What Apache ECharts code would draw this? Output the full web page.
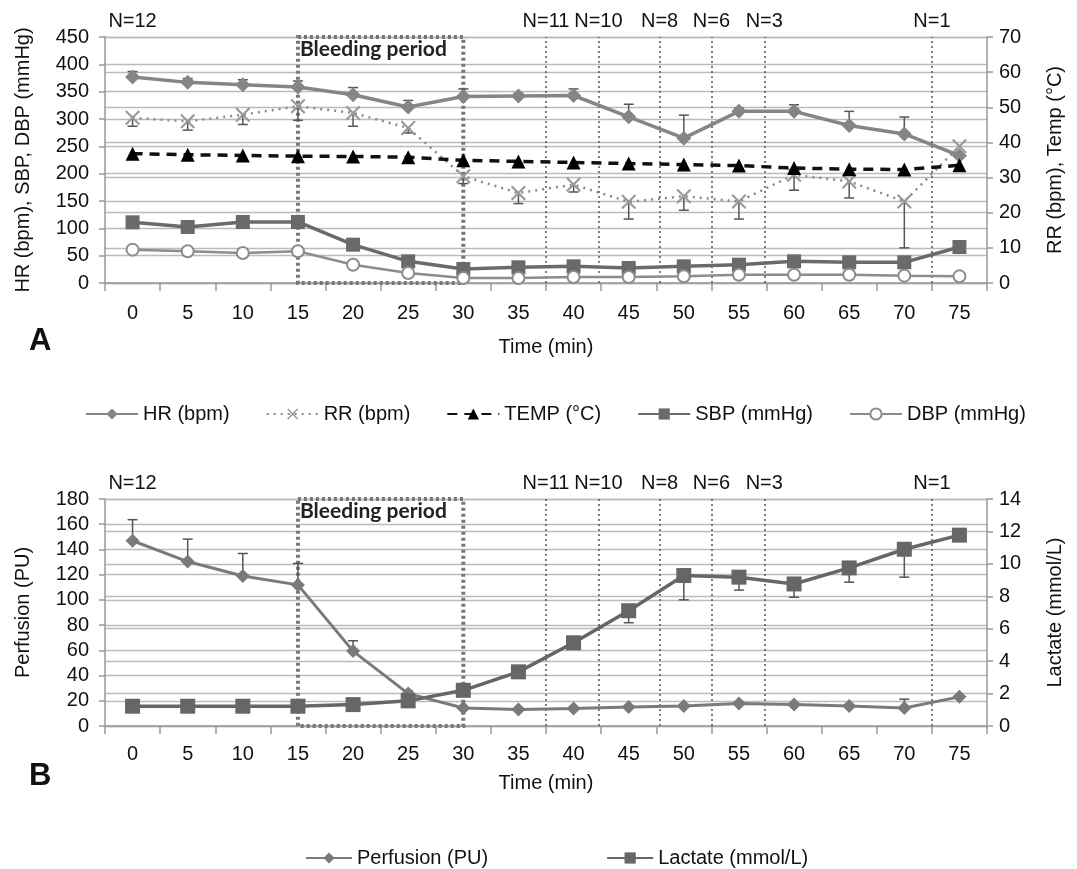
<!DOCTYPE html>
<html><head><meta charset="utf-8">
<script src="https://cdn.jsdelivr.net/npm/echarts@6/dist/echarts.min.js"></script>
<style>html,body{margin:0;padding:0;background:#fff}#c{width:1077px;height:869px}</style>
</head><body><div id="c"></div>
<script>
// ---- data ----
const times = [0,5,10,15,20,25,30,35,40,45,50,55,60,65,70,75];
const timeLabels = ['0','5','10','15','20','25','30','35','40','45','50','55','60','65','70','75'];
const hr = [376.8,367,362.8,358.5,344.5,322,341,342,343,304,265,314,314,288,272.6,233];
const hrErr = [10,7,9,11,13,12,14,5,12,23,42,6,12,26,31,0];
const rr = [47.0,46.0,47.9,50.3,48.4,44.1,30.4,25.6,28.0,23.1,24.7,23.2,30.8,28.9,23.2,38.9];
const rrErr = [2.4,2.5,2.8,4,3.8,1.4,2.1,3.0,2.1,4.9,4,5,4.4,4.7,13.2,0];
const temp = [36.8,36.5,36.3,36.1,36.0,35.8,34.9,34.6,34.3,34.0,33.7,33.4,32.7,32.4,32.3,33.5];
const sbp = [111,102.4,111.6,111.6,70.1,39.6,25.6,28.7,30.5,27.4,30.5,33.5,39.6,37.8,37.8,65.9];
const dbp = [61,58,54.9,58,33.5,18.3,9.1,9,11,11,12.2,15.2,15.2,15.2,13.4,12.2];
const perfusion = [146.9,130.4,119,111.9,59.4,25.7,14.3,13.0,13.8,15.1,15.9,17.8,17.0,15.9,14.3,23.1];
const perfusionErr = [16.7,17.8,17.8,17,8.2,2,0,0,0,0,0,0,0,0,7,0];
const lactate = [1.22,1.22,1.22,1.22,1.32,1.55,2.2,3.34,5.13,7.11,9.28,9.18,8.76,9.75,10.9,11.77];
const lactateErr = [0,0,0,0,0,0,0,0,0.3,0.74,1.5,0.8,0.82,0.88,1.72,0];
const nLabels = ['N=12','N=11','N=10','N=8','N=6','N=3','N=1'];
const nTimes = [0,37.5,42.25,47.8,52.5,57.3,72.5];
const bleedStart = 15, bleedEnd = 30;

// ---- styling ----
const FF = "'Liberation Sans',Arial,sans-serif";
const TXT = '#111';
const xShape = 'path://M0,1 L1,0 L5,4 L9,0 L10,1 L6,5 L10,9 L9,10 L5,6 L1,10 L0,9 L4,5 Z';

function pairs(arr){ return times.map((t,i)=>[t,arr[i]]); }
function errData(arr, err, dir){ return times.map((t,i)=>[t,arr[i],err[i],dir]); }
function errRender(params, api){
  const x=api.value(0), y=api.value(1), e=api.value(2), d=api.value(3);
  if(!e) return {type:'group',children:[]};
  const p0=api.coord([x,y]), p1=api.coord([x,y+d*e]);
  const w=5;
  return {type:'group',children:[
    {type:'line',shape:{x1:p0[0],y1:p0[1],x2:p1[0],y2:p1[1]},style:{stroke:'#555',lineWidth:1.5}},
    {type:'line',shape:{x1:p1[0]-w,y1:p1[1],x2:p1[0]+w,y2:p1[1]},style:{stroke:'#555',lineWidth:1.5}}
  ]};
}
function errSeries(arr, err, dir, xi, yi){
  return {type:'custom', xAxisIndex:xi, yAxisIndex:yi, renderItem:errRender,
    data:errData(arr,err,dir), encode:{x:0,y:1}, z:1, silent:true};
}
function nMarkLine(){
  return {symbol:'none', silent:true,
    lineStyle:{color:'#555',width:1.5,type:[2,3]},
    label:{show:true,position:'end',distance:6,fontFamily:FF,fontSize:20,color:TXT},
    data:nTimes.map((t,i)=>({xAxis:t,
      label:{show:true,formatter:nLabels[i],color:TXT},
      lineStyle: i===0?{color:'rgba(0,0,0,0)',width:0}:{}}))};
}
function bleedArea(yMax){
  return {silent:true,
    itemStyle:{color:'rgba(0,0,0,0)',borderColor:'#777',borderWidth:4,borderType:[3,3]},
    label:{show:true,position:'insideTopLeft',distance:4,
      fontFamily:'Lato, sans-serif',fontWeight:'bold',fontSize:21,color:'#222'},
    data:[[{name:'Bleeding period',xAxis:bleedStart,yAxis:yMax},{xAxis:bleedEnd,yAxis:0}]]};
}
function catAxis(gi, nameGap, margin){
  return {type:'category', gridIndex:gi, data:timeLabels, boundaryGap:true,
    axisLine:{show:true,onZero:false,lineStyle:{color:'#999',width:1.5}},
    axisTick:{show:true,length:8,lineStyle:{color:'#999',width:1.5}},
    axisLabel:{fontFamily:FF,fontSize:20,color:TXT,margin:margin},
    splitLine:{show:false},
    name:'Time (min)', nameLocation:'middle', nameGap:nameGap,
    nameTextStyle:{fontFamily:FF,fontSize:20,color:TXT}};
}
function valXAxis(gi){ return {type:'value', gridIndex:gi, min:-2.5, max:77.5, show:false}; }
function yAx(gi, pos, max, interval, name, nameGap){
  return {type:'value', gridIndex:gi, position:pos, min:0, max:max, interval:interval,
    axisLine:{show:true,onZero:false,lineStyle:{color:'#999',width:1.5}},
    axisTick:{show:true,length:6,lineStyle:{color:'#999',width:1.5}},
    axisLabel:{fontFamily:FF,fontSize:20,color:TXT,margin:pos==='left'?16:12},
    splitLine:{show:true,lineStyle:{color:'#bbb',width:1.3}},
    name:name, nameLocation:'middle', nameGap:nameGap, nameRotate:90,
    nameTextStyle:{fontFamily:FF,fontSize:20,color:TXT}};
}

const option = {
  backgroundColor:'#fff',
  animation:false,
  grid:[
    {left:105,right:90,top:37,height:246},
    {left:105,right:90,top:499,height:227}
  ],
  xAxis:[catAxis(0,54,20), valXAxis(0), catAxis(1,47,18), valXAxis(1)],
  yAxis:[
    yAx(0,'left',450,50,'HR (bpm), SBP, DBP (mmHg)',72),
    yAx(0,'right',70,10,'RR (bpm), Temp (°C)',58),
    yAx(1,'left',180,20,'Perfusion (PU)',72),
    yAx(1,'right',14,2,'Lactate (mmol/L)',58)
  ],
  legend:[
    {data:['HR (bpm)','RR (bpm)','TEMP (°C)','SBP (mmHg)','DBP (mmHg)'],
     left:80, top:399, width:1000, itemWidth:52, itemHeight:14, itemGap:36,
     textStyle:{fontFamily:FF,fontSize:20,color:TXT}},
    {data:['Perfusion (PU)','Lactate (mmol/L)'],
     left:300, top:843, width:900, itemWidth:46, itemHeight:14, itemGap:118,
     textStyle:{fontFamily:FF,fontSize:20,color:TXT}}
  ],
  graphic:[
    {type:'text', left:29, top:326, style:{text:'A', font:"bold 31px 'Liberation Sans',sans-serif", fill:'#111'}},
    {type:'text', left:29, top:761, style:{text:'B', font:"bold 31px 'Liberation Sans',sans-serif", fill:'#111'}}
  ],
  series:[
    errSeries(hr,hrErr,1,1,0),
    errSeries(rr,rrErr,-1,1,1),
    errSeries(perfusion,perfusionErr,1,3,2),
    errSeries(lactate,lactateErr,-1,3,3),
    {name:'HR (bpm)', type:'line', xAxisIndex:1, yAxisIndex:0, data:pairs(hr),
     symbol:'diamond', symbolSize:15, z:5,
     lineStyle:{color:'#858585',width:3.5}, itemStyle:{color:'#858585'},
     markArea:bleedArea(450), markLine:nMarkLine()},
    {name:'RR (bpm)', type:'line', xAxisIndex:1, yAxisIndex:1, data:pairs(rr),
     symbol:xShape, symbolSize:15, z:4,
     lineStyle:{color:'#8a8a8a',width:2.5,type:[2,5]}, itemStyle:{color:'#999'}},
    {name:'TEMP (°C)', type:'line', xAxisIndex:1, yAxisIndex:1, data:pairs(temp),
     symbol:'triangle', symbolSize:14, z:5,
     lineStyle:{color:'#111',width:3.5,type:[10,7]}, itemStyle:{color:'#000'}},
    {name:'SBP (mmHg)', type:'line', xAxisIndex:1, yAxisIndex:0, data:pairs(sbp),
     symbol:'rect', symbolSize:14, z:5,
     lineStyle:{color:'#6a6a6a',width:3.5}, itemStyle:{color:'#6a6a6a'}},
    {name:'DBP (mmHg)', type:'line', xAxisIndex:1, yAxisIndex:0, data:pairs(dbp),
     symbol:'emptyCircle', symbolSize:12, z:5,
     lineStyle:{color:'#8c8c8c',width:2.5}, itemStyle:{color:'#8c8c8c',borderWidth:1.5}},
    {name:'Perfusion (PU)', type:'line', xAxisIndex:3, yAxisIndex:2, data:pairs(perfusion),
     symbol:'diamond', symbolSize:14, z:5,
     lineStyle:{color:'#7a7a7a',width:3}, itemStyle:{color:'#7a7a7a'},
     markArea:bleedArea(180), markLine:nMarkLine()},
    {name:'Lactate (mmol/L)', type:'line', xAxisIndex:3, yAxisIndex:3, data:pairs(lactate),
     symbol:'rect', symbolSize:15, z:5,
     lineStyle:{color:'#666',width:3.5}, itemStyle:{color:'#666'}}
  ]
};
const chart = echarts.init(document.getElementById('c'), null, {renderer:'canvas'});
chart.setOption(option);
</script></body></html>
